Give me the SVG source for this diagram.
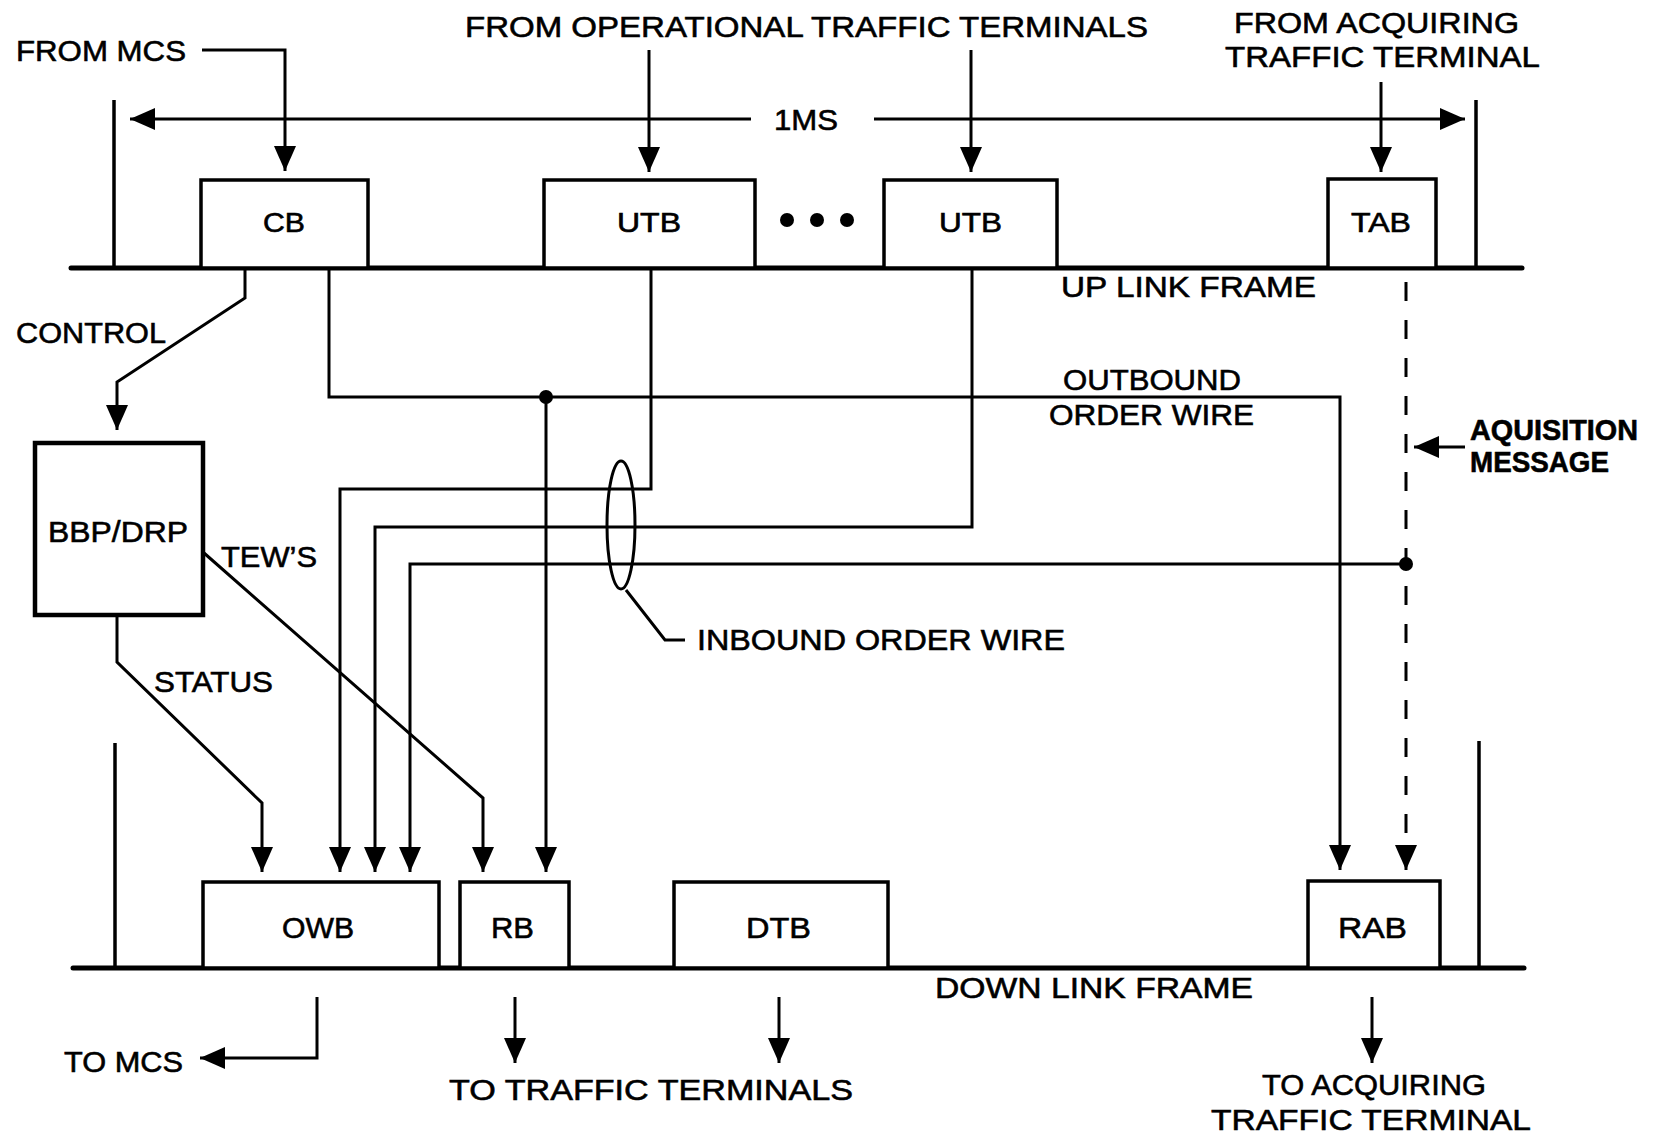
<svg xmlns="http://www.w3.org/2000/svg" width="1655" height="1136" viewBox="0 0 1655 1136">
<style>
  text { font-family: "Liberation Sans", Arial, sans-serif; font-size: 30px; fill: #000; stroke: #000; stroke-width: 0.6; }
  .sm { font-size: 27px; }
  .box { fill: #fff; stroke: #000; stroke-width: 3.5; }
  .frame { stroke: #000; stroke-width: 5; fill: none; stroke-linecap: round; }
  .bar { stroke: #000; stroke-width: 3.5; fill: none; }
  .wire { stroke: #000; stroke-width: 3; fill: none; }
  .arr { marker-end: url(#ah); }
  .dash { stroke-dasharray: 19 19; }
</style>
<defs>
  <marker id="ah" viewBox="0 0 25 22" refX="25" refY="11" markerWidth="25" markerHeight="22" markerUnits="userSpaceOnUse" orient="auto">
    <path d="M0,0 L25,11 L0,22 z" fill="#000"/>
  </marker>
</defs>
<rect width="1655" height="1136" fill="#fff"/>

<!-- frames -->
<g id="frames">
  <line class="frame" x1="71" y1="268" x2="1522" y2="268"/>
  <line class="bar" x1="114" y1="100" x2="114" y2="268"/>
  <line class="bar" x1="1476" y1="100" x2="1476" y2="268"/>
  <line class="frame" x1="73" y1="968" x2="1524" y2="968"/>
  <line class="bar" x1="115" y1="743" x2="115" y2="968"/>
  <line class="bar" x1="1479" y1="741" x2="1479" y2="968"/>
</g>

<!-- connectors -->
<g id="connectors">
  <path class="wire arr" d="M202,50 H285 V171"/>
  <path class="wire arr" d="M649,50 V172"/>
  <path class="wire arr" d="M971,50 V172"/>
  <path class="wire arr" d="M1381,82 V172"/>
  <path class="wire arr" d="M751,119 H130"/>
  <path class="wire arr" d="M874,119 H1465"/>
  <path class="wire arr" d="M245,268 V298 L117,382 V430"/>
  <path class="wire arr" d="M329,268 V397 H1340 V870"/>
  <path class="wire arr" d="M546,397 V872"/>
  <circle cx="546" cy="397" r="7" fill="#000"/>
  <path class="wire arr" d="M651,268 V489 H340 V872"/>
  <path class="wire arr" d="M972,268 V527 H375 V872"/>
  <path class="wire arr" d="M1406,564 H410 V872"/>
  <circle cx="1406" cy="564" r="7" fill="#000"/>
  <path class="wire arr" d="M204,553 L483,798 V872"/>
  <path class="wire arr" d="M117,615 V662 L262,803 V872"/>
  <path class="wire dash arr" d="M1406,282 V870"/>
  <path class="wire arr" d="M1465,447 H1414"/>
  <path class="wire arr" d="M317,997 V1058 H200"/>
  <path class="wire arr" d="M515,997 V1063"/>
  <path class="wire arr" d="M779,997 V1063"/>
  <path class="wire arr" d="M1372,997 V1063"/>
  <ellipse class="wire" cx="621" cy="525" rx="14" ry="64"/>
  <path class="wire" d="M626,590 L665,640 H685"/>
  <circle cx="787" cy="220" r="7" fill="#000"/>
  <circle cx="817" cy="220" r="7" fill="#000"/>
  <circle cx="847" cy="220" r="7" fill="#000"/>
</g>

<!-- nodes -->
<g id="node-cb">
  <rect class="box" x="201" y="180" width="167" height="88"/>
  <text class="sm" x="263" y="232" textLength="42" lengthAdjust="spacingAndGlyphs">CB</text>
</g>
<g id="node-utb1">
  <rect class="box" x="544" y="180" width="211" height="88"/>
  <text class="sm" x="617" y="232" textLength="64" lengthAdjust="spacingAndGlyphs">UTB</text>
</g>
<g id="node-utb2">
  <rect class="box" x="884" y="180" width="173" height="88"/>
  <text class="sm" x="939" y="232" textLength="63" lengthAdjust="spacingAndGlyphs">UTB</text>
</g>
<g id="node-tab">
  <rect class="box" x="1328" y="179" width="108" height="89"/>
  <text class="sm" x="1351" y="232" textLength="60" lengthAdjust="spacingAndGlyphs">TAB</text>
</g>
<g id="node-bbp">
  <rect x="35" y="443" width="168" height="172" fill="#fff" stroke="#000" stroke-width="4.5"/>
  <text x="48" y="542" textLength="140" lengthAdjust="spacingAndGlyphs">BBP/DRP</text>
</g>
<g id="node-owb">
  <rect class="box" x="203" y="882" width="236" height="86"/>
  <text x="282" y="938" textLength="72" lengthAdjust="spacingAndGlyphs">OWB</text>
</g>
<g id="node-rb">
  <rect class="box" x="460" y="882" width="109" height="86"/>
  <text x="491" y="938" textLength="43" lengthAdjust="spacingAndGlyphs">RB</text>
</g>
<g id="node-dtb">
  <rect class="box" x="674" y="882" width="214" height="86"/>
  <text x="746" y="938" textLength="65" lengthAdjust="spacingAndGlyphs">DTB</text>
</g>
<g id="node-rab">
  <rect class="box" x="1308" y="881" width="132" height="87"/>
  <text x="1338" y="938" textLength="69" lengthAdjust="spacingAndGlyphs">RAB</text>
</g>

<!-- labels -->
<g id="labels">
  <text x="16" y="61" textLength="170" lengthAdjust="spacingAndGlyphs">FROM MCS</text>
  <text x="465" y="37" textLength="683" lengthAdjust="spacingAndGlyphs">FROM OPERATIONAL TRAFFIC TERMINALS</text>
  <text x="1234" y="33" textLength="285" lengthAdjust="spacingAndGlyphs">FROM ACQUIRING</text>
  <text x="1225" y="67" textLength="315" lengthAdjust="spacingAndGlyphs">TRAFFIC TERMINAL</text>
  <text x="774" y="130" textLength="64" lengthAdjust="spacingAndGlyphs">1MS</text>
  <text x="1061" y="297" textLength="255" lengthAdjust="spacingAndGlyphs">UP LINK FRAME</text>
  <text x="16" y="343" textLength="150" lengthAdjust="spacingAndGlyphs">CONTROL</text>
  <text x="1063" y="390" textLength="178" lengthAdjust="spacingAndGlyphs">OUTBOUND</text>
  <text x="1049" y="425" textLength="205" lengthAdjust="spacingAndGlyphs">ORDER WIRE</text>
  <text x="1470" y="440" textLength="168" lengthAdjust="spacingAndGlyphs" font-weight="bold" stroke-width="0">AQUISITION</text>
  <text x="1470" y="472" textLength="139" lengthAdjust="spacingAndGlyphs" font-weight="bold" stroke-width="0">MESSAGE</text>
  <text x="221" y="567" textLength="96" lengthAdjust="spacingAndGlyphs">TEW’S</text>
  <text x="697" y="650" textLength="368" lengthAdjust="spacingAndGlyphs">INBOUND ORDER WIRE</text>
  <text x="154" y="692" textLength="119" lengthAdjust="spacingAndGlyphs">STATUS</text>
  <text x="935" y="998" textLength="318" lengthAdjust="spacingAndGlyphs">DOWN LINK FRAME</text>
  <text x="64" y="1072" textLength="119" lengthAdjust="spacingAndGlyphs">TO MCS</text>
  <text x="449" y="1100" textLength="404" lengthAdjust="spacingAndGlyphs">TO TRAFFIC TERMINALS</text>
  <text x="1262" y="1095" textLength="224" lengthAdjust="spacingAndGlyphs">TO ACQUIRING</text>
  <text x="1211" y="1130" textLength="320" lengthAdjust="spacingAndGlyphs">TRAFFIC TERMINAL</text>
</g>
</svg>
